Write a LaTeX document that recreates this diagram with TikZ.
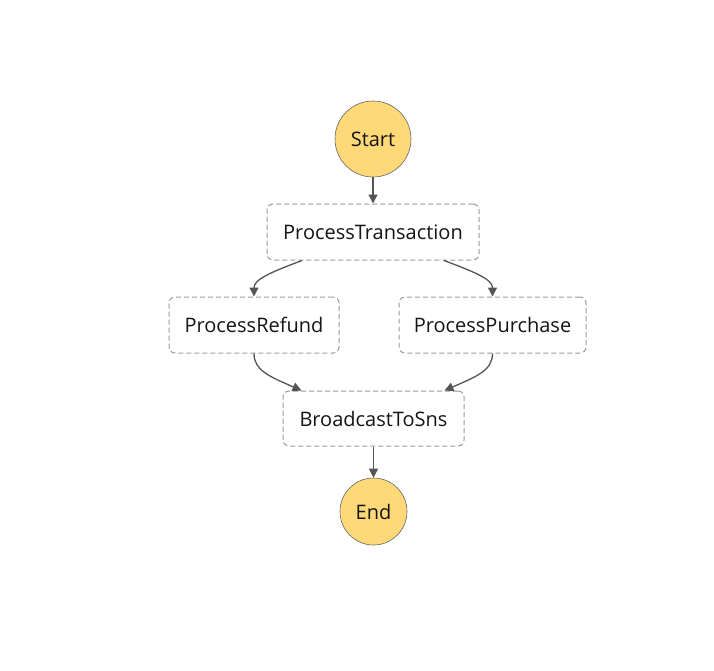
\documentclass[tikz,border=0pt]{standalone}
\usepackage{fontspec}
\setmainfont{Open Sans}
\usetikzlibrary{arrows.meta,calc}
\definecolor{startfill}{HTML}{FFD978}
\definecolor{edgecol}{HTML}{555555}
\definecolor{boxcol}{HTML}{9A9A9A}
\definecolor{txt}{HTML}{141414}
\begin{document}
\begin{tikzpicture}[x=1pt,y=-1pt,
  term/.style={circle,draw=black!60,line width=0.6pt,fill=startfill,inner sep=0pt,font=\fontsize{20}{24}\selectfont,text=txt},
  task/.style={draw=boxcol,dash pattern=on 5pt off 3pt,line width=1pt,rounded corners=6pt,inner sep=0pt,font=\fontsize{20}{24}\selectfont,text=txt},
  edge/.style={draw=edgecol,line width=1.3pt,-{Triangle[length=9pt,width=9pt]}}]
\useasboundingbox (0,0) rectangle (714,670);
\node[term,minimum size=76pt] (start) at (373,139) {Start};
\node[task,minimum width=212pt,minimum height=56pt] (pt) at (373,232) {ProcessTransaction};
\node[task,minimum width=170pt,minimum height=56pt] (refund) at (254,325) {ProcessRefund};
\node[task,minimum width=187pt,minimum height=56pt] (purchase) at (492.5,325) {ProcessPurchase};
\node[task,minimum width=181pt,minimum height=55pt] (bcast) at (373.5,418.5) {BroadcastToSns};
\node[term,minimum size=67pt] (end) at (373.5,511.5) {End};
\draw[edge] (start) -- (pt);
\draw[edge] ($(pt.south)+(-71,0)$) .. controls +(-32,12) and +(0,-17) .. (refund.north);
\draw[edge] ($(pt.south)+(71,0)$) .. controls +(32,12) and +(0,-17) .. (purchase.north);
\draw[edge] (refund.south) .. controls +(0,17) and +(-32,-14) .. ($(bcast.north)+(-72,0)$);
\draw[edge] (purchase.south) .. controls +(0,17) and +(32,-14) .. ($(bcast.north)+(71,0)$);
\draw[edge] (bcast) -- (end);
\end{tikzpicture}
\end{document}
